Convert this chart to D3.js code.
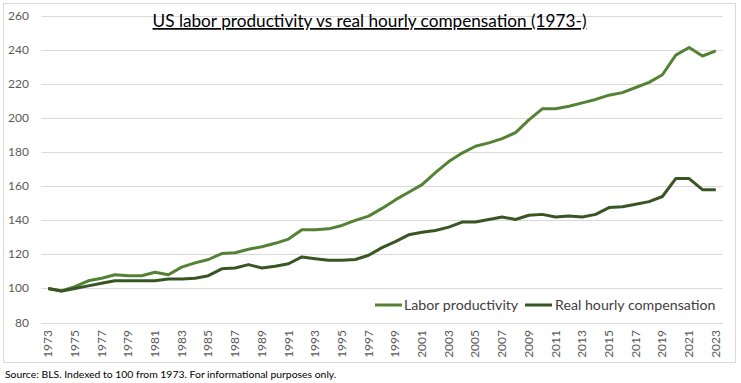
<!DOCTYPE html>
<html>
<head>
<meta charset="utf-8">
<script src="https://cdn.jsdelivr.net/npm/d3@7"></script>
<style>
  body { margin: 0; background: #fff; }
  svg text { font-family: Lato, "Open Sans", sans-serif; }
</style>
</head>
<body>
<svg id="chart" width="741" height="383"></svg>
<script>
// years 1973..2023
var years = d3.range(1973, 2024);
var productivity = [100, 98.5, 101, 104.5, 106, 108, 107.5, 107.5, 109.5, 108,
  112.5, 115, 117, 120.5, 121, 123, 124.5, 126.5, 129, 134.5,
  134.5, 135, 137, 140, 142.5, 147, 152, 156.5, 161, 168,
  174.5, 179.5, 183.5, 185.5, 188, 191.5, 199, 205.5, 205.5, 207,
  209, 211, 213.5, 215, 218, 221, 225.5, 237, 241.5, 236.5, 239.5];
var compensation = [100, 98.5, 100, 101.5, 103, 104.5, 104.5, 104.5, 104.5, 105.5,
  105.5, 106, 107.5, 111.5, 112, 114, 112, 113, 114.5, 118.5,
  117.5, 116.5, 116.5, 117, 119.5, 124, 127.5, 131.5, 133, 134,
  136, 139, 139, 140.5, 142, 140.5, 143, 143.5, 142, 142.5,
  142, 143.5, 147.5, 148, 149.5, 151, 154, 164.5, 164.5, 158, 158];
var yTicks = [80, 100, 120, 140, 160, 180, 200, 220, 240, 260];
var seriesNames = ["Labor productivity", "Real hourly compensation"];
var seriesColors = ["#548235", "#375623"];

var svg = d3.select("#chart");

// outer chart border
svg.append("rect").attr("x", 3.5).attr("y", 3.5).attr("width", 732).attr("height", 359)
  .attr("fill", "none").attr("stroke", "#d9d9d9");

var x = d3.scaleBand().domain(years).range([41.5, 722.5]);
var y = d3.scaleLinear().domain([80, 260]).range([322.5, 16]);
var cx = function(d){ return x(d) + x.bandwidth()/2; };

// gridlines + y labels
svg.append("g").selectAll("line").data(yTicks).enter().append("line")
  .attr("x1", 41.5).attr("x2", 722.5)
  .attr("y1", function(d){ return Math.round(y(d)) + 0.5; })
  .attr("y2", function(d){ return Math.round(y(d)) + 0.5; })
  .attr("stroke", "#d9d9d9").attr("stroke-width", 1);

svg.append("g").selectAll("text").data(yTicks).enter().append("text")
  .attr("x", 29).attr("y", function(d){ return y(d) + 4; })
  .attr("text-anchor", "end").attr("font-size", 12).attr("fill", "#595959")
  .text(function(d){ return d; });

// x labels, every other year, rotated
svg.append("g").selectAll("text").data(years.filter(function(d){ return (d - 1973) % 2 == 0; }))
  .enter().append("text")
  .attr("transform", function(d){ return "translate(" + (cx(d) + 4) + ",330) rotate(-90)"; })
  .attr("text-anchor", "end").attr("font-size", 12).attr("fill", "#595959")
  .text(function(d){ return d; });

var line = d3.line().x(function(d, i){ return cx(years[i]); }).y(function(d){ return y(d); });

[productivity, compensation].forEach(function(s, i){
  svg.append("path").datum(s).attr("d", line)
    .attr("fill", "none").attr("stroke", seriesColors[i]).attr("stroke-width", 3)
    .attr("stroke-linejoin", "round");
});

// title
svg.append("text").attr("x", 369.5).attr("y", 27).attr("text-anchor", "middle")
  .attr("font-size", 17.2).attr("fill", "#000").attr("text-decoration", "underline")
  .text("US labor productivity vs real hourly compensation (1973-)");

// legend
var legendX = [375, 525], textX = [404, 555];
seriesNames.forEach(function(n, i){
  svg.append("line").attr("x1", legendX[i]).attr("x2", legendX[i] + 27)
    .attr("y1", 305).attr("y2", 305).attr("stroke", seriesColors[i]).attr("stroke-width", 3);
  svg.append("text").attr("x", textX[i]).attr("y", 310).attr("font-size", 14.2)
    .attr("fill", "#404040").text(n);
});

// source note
svg.append("text").attr("x", 5).attr("y", 378).attr("font-size", 10.4).attr("fill", "#000")
  .text("Source: BLS. Indexed to 100 from 1973. For informational purposes only.");
</script>
</body>
</html>
